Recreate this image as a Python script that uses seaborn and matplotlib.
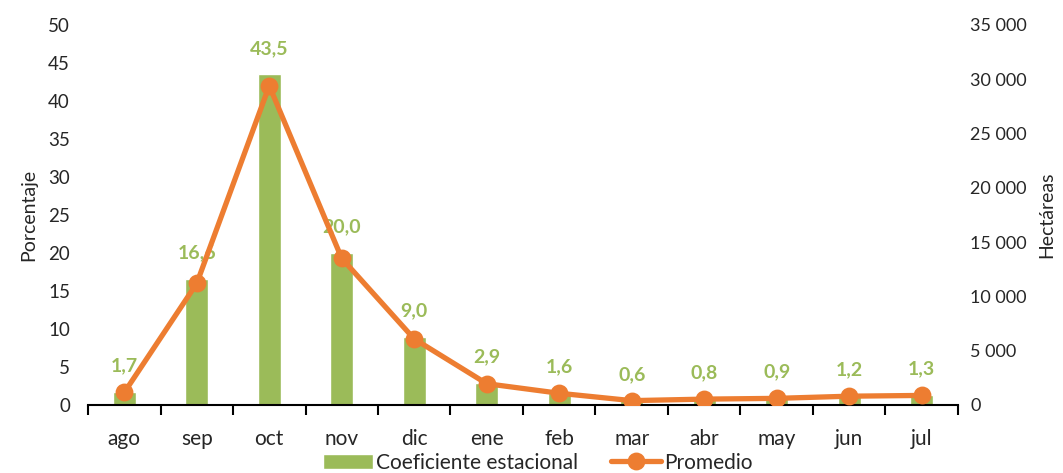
import numpy as np
import pandas as pd
import matplotlib
matplotlib.use("Agg")
import matplotlib.pyplot as plt
from matplotlib.ticker import FuncFormatter, MultipleLocator
import seaborn as sns

# data
meses = ["ago", "sep", "oct", "nov", "dic", "ene", "feb", "mar", "abr", "may", "jun", "jul"]
coeficiente = [1.7, 16.6, 43.5, 20.0, 9.0, 2.9, 1.6, 0.6, 0.8, 0.9, 1.2, 1.3]
promedio = [1150, 11200, 29400, 13500, 6080, 1960, 1080, 400, 540, 610, 810, 880]

GREEN = "#9BBB59"
ORANGE = "#ED7D31"

sns.set_theme(style="white")
plt.rcParams["font.family"] = ["Lato", "DejaVu Sans"]

df = pd.DataFrame({"mes": meses, "coef": coeficiente, "prom": promedio})

fig = plt.figure(figsize=(10.63, 4.73), dpi=100)
ax = fig.add_axes([0.0828, 0.1438, 0.8184, 0.8034])

sns.barplot(data=df, x="mes", y="coef", color=GREEN, saturation=1,
            width=0.32, ax=ax)
ax.set_ylim(0, 50)
ax.yaxis.set_major_locator(MultipleLocator(5))

ax2 = ax.twinx()
sns.pointplot(data=df, x="mes", y="prom", color=ORANGE, markers="o",
              markersize=10, linewidth=3.8, ax=ax2)
ax2.set_ylim(0, 35000)
ax2.yaxis.set_major_locator(MultipleLocator(5000))
ax2.yaxis.set_major_formatter(FuncFormatter(lambda v, p: f"{int(v):,}".replace(",", " ")))
ax.set_xlim(-0.5, len(meses) - 0.5)
ax2.set_xlim(-0.5, len(meses) - 0.5)

# data labels
for i, v in enumerate(coeficiente):
    ax.text(i, v + 2.3, f"{v:.1f}".replace(".", ","), ha="center", va="bottom",
            color=GREEN, fontsize=14, fontweight="bold")

for a in (ax, ax2):
    for s in ("top", "left", "right"):
        a.spines[s].set_visible(False)
ax.spines["bottom"].set_color("black")
ax.spines["bottom"].set_linewidth(1.5)
ax2.spines["bottom"].set_visible(False)

ax.set_xticks(np.arange(-0.5, len(meses), 1), minor=True)
ax.tick_params(axis="x", which="minor", length=7, width=1.5, color="black", bottom=True)
ax.tick_params(axis="x", which="major", length=0, pad=17, labelsize=15)
ax.tick_params(axis="y", length=0, pad=13, labelsize=13.5)
ax2.tick_params(axis="y", length=0, pad=9, labelsize=13)

ax.set_xlabel("")
ax.set_ylabel("Porcentaje", fontsize=14, labelpad=8)
ax2.set_xlabel("")
ax2.set_ylabel("Hectáreas", fontsize=14, labelpad=8)
ax.grid(False)
ax2.grid(False)

handles = [ax.containers[0].patches[0], ax2.lines[0]]
fig.legend(handles, ["Coeficiente estacional", "Promedio"], loc="center",
           bbox_to_anchor=(0.506, 0.022), ncol=2, frameon=False, fontsize=15,
           handlelength=2.4, handletextpad=0.15, columnspacing=1.6)

fig.savefig("out.png", dpi=100)
